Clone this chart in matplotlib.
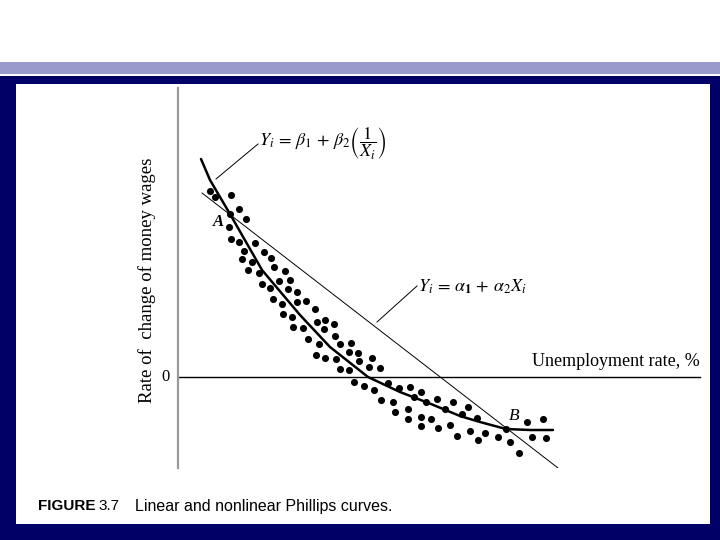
import matplotlib
matplotlib.use("Agg")
import matplotlib.pyplot as plt
from matplotlib.patches import Rectangle
from matplotlib import font_manager

# scatter of observations (unemployment rate %, rate of change of money wages)
obs_x = [0.60, 0.70, 1.02, 1.18, 1.00, 1.32, 0.98, 1.02, 1.18, 1.50,
         1.28, 1.68, 1.82, 1.24, 1.44, 1.88, 1.36, 1.58, 2.10, 1.64,
         1.98, 2.20, 1.80, 2.16, 2.34, 1.86, 2.04, 2.34, 2.52, 2.70,
         2.06, 2.24, 2.74, 2.90, 3.08, 2.26, 2.46, 2.88, 2.56, 2.78,
         3.10, 3.20, 3.42, 3.38, 3.56, 2.72, 2.90, 3.12, 3.58, 3.84,
         3.20, 3.38, 3.78, 4.00, 3.48, 3.68, 3.88, 4.16, 4.38, 4.60,
         4.02, 4.26, 4.68, 4.82, 4.92, 5.14, 4.30, 4.56, 4.56, 4.82,
         5.02, 5.30, 4.82, 5.16, 5.40, 5.54, 5.46, 5.64, 5.76, 5.94,
         5.80, 5.96, 6.10, 6.36, 6.52, 6.60, 6.78, 6.94, 7.26, 7.04,
         7.32]
obs_y = [7.44, 7.20, 7.28, 6.72, 6.52, 6.32, 6.00, 5.52, 5.40, 5.36,
         5.04, 5.00, 4.76, 4.72, 4.60, 4.40, 4.28, 4.16, 4.24, 3.72,
         3.84, 3.88, 3.56, 3.52, 3.40, 3.12, 2.92, 3.00, 3.04, 2.72,
         2.52, 2.40, 2.20, 2.28, 2.12, 2.00, 1.96, 1.92, 1.52, 1.32,
         1.64, 1.32, 1.36, 1.00, 0.96, 0.88, 0.76, 0.72, 0.64, 0.76,
         0.32, 0.28, 0.40, 0.36, -0.20, -0.36, -0.52, -0.24, -0.44, -0.40,
         -0.92, -1.00, -0.80, -0.60, -1.00, -0.88, -1.40, -1.28, -1.68, -1.60,
         -1.68, -1.28, -1.96, -2.04, -1.92, -2.36, -1.00, -1.48, -1.20, -1.64,
         -2.16, -2.52, -2.24, -2.40, -2.08, -2.60, -3.04, -1.80, -1.68, -2.40,
         -2.44]

# nonlinear (reciprocal) curve as drawn
recip_x = [0.42, 0.60, 1.00, 1.64, 2.40, 3.00, 3.76, 4.40, 5.02, 5.60, 6.00, 6.52, 7.00, 7.46]
recip_y = [8.72, 7.88, 6.52, 4.28, 2.48, 1.20, 0.00, -0.60, -1.08, -1.56, -1.80, -2.08, -2.12, -2.12]

# linear fit, end points
lin_x = [0.44, 7.56]
lin_y = [7.36, -3.64]

# leader lines to the equations
lead_b_x, lead_b_y = [0.72, 1.56], [7.92, 9.32]
lead_a_x, lead_a_y = [3.94, 4.74], [2.20, 3.64]

point_a = (0.76, 6.20)
point_b = (6.68, -1.56)


def have_font(name):
    try:
        font_manager.findfont(name, fallback_to_default=False)
        return True
    except Exception:
        return False


serif = "Liberation Serif" if have_font("Liberation Serif") else "DejaVu Serif"
narrow = "Liberation Sans Narrow" if have_font("Liberation Sans Narrow") else "Liberation Sans"
plt.rcParams["mathtext.fontset"] = "stix"

navy = "#000066"
fig = plt.figure(figsize=(7.2, 5.4), dpi=100, facecolor=navy)

# slide background, in pixel units
bg = fig.add_axes([0, 0, 1, 1])
bg.set_xlim(0, 720)
bg.set_ylim(540, 0)
bg.axis("off")
bg.add_patch(Rectangle((0, 0), 720, 62, color="white", lw=0))
bg.add_patch(Rectangle((0, 62), 720, 12, color="#9999cc", lw=0))
bg.add_patch(Rectangle((0, 74), 720, 2, color="white", lw=0))
bg.add_patch(Rectangle((16, 84), 694, 440, color="white", lw=0))

# the chart itself
ax = fig.add_axes([178 / 720, 72 / 540, 532 / 720, 380 / 540])
ax.patch.set_alpha(0)
ax.set_xlim(-0.04, 10.6)
ax.set_ylim(-3.64, 11.56)
for s in ["top", "right", "bottom"]:
    ax.spines[s].set_visible(False)
ax.spines["left"].set_color("#999999")
ax.spines["left"].set_linewidth(1.6)
ax.set_xticks([])
ax.set_yticks([])

ax.axhline(0, xmin=0, xmax=(10.4 + 0.04) / 10.64, color="black", lw=1.0)

ax.plot(lin_x, lin_y, color="black", lw=0.7)
ax.plot(recip_x, recip_y, color="black", lw=1.8, solid_capstyle="round")
ax.scatter(obs_x, obs_y, s=26, color="black", zorder=3, linewidths=0)

ax.plot(lead_b_x, lead_b_y, color="black", lw=0.7)
ax.plot(lead_a_x, lead_a_y, color="black", lw=0.7)

ax.text(lead_b_x[1] + 0.02, lead_b_y[1],
        r"$Y_i\,=\,\beta_1\,+\,\beta_2\left(\dfrac{1}{X_i}\right)$",
        fontsize=13, ha="left", va="center")
ax.text(lead_a_x[1] + 0.02, lead_a_y[1] - 0.04,
        r"$Y_i\,=\,\alpha_{\mathbf{1}}\,+\,\alpha_2 X_i$",
        fontsize=13, ha="left", va="center")

ax.text(point_a[0], point_a[1], "A", family=serif, style="italic",
        weight="bold", fontsize=12, ha="center", va="center")
ax.text(point_b[0], point_b[1], "B", family=serif, style="italic",
        fontsize=12.5, ha="center", va="center")

ax.text(10.4, 0.64, "Unemployment rate, %", family=serif, fontsize=13,
        ha="right", va="center")
ax.text(-0.28, 0, "0", family=serif, fontsize=12, ha="center",
        va="center", clip_on=False)

fig.text(147 / 720, 1 - 280 / 540, "Rate of  change of money wages",
         family=serif, fontsize=13.5, rotation=90, ha="center", va="center")

# caption: place "3.7" right after the bold word
cap_y = 1 - 506 / 540
fig_lbl = fig.text(38 / 720, cap_y, "FIGURE", family=narrow, weight="bold",
                   fontsize=11, ha="left", va="center")
fig.canvas.draw()
bb = fig_lbl.get_window_extent()
fig.text((bb.x1 + 3) / 720, cap_y, "3.7", family=narrow,
         fontsize=11, ha="left", va="center")
fig.text(135 / 720, cap_y, "Linear and nonlinear Phillips curves.",
         family=narrow, fontsize=11.5, ha="left", va="center")

fig.savefig("out.png", dpi=100, facecolor=navy)
